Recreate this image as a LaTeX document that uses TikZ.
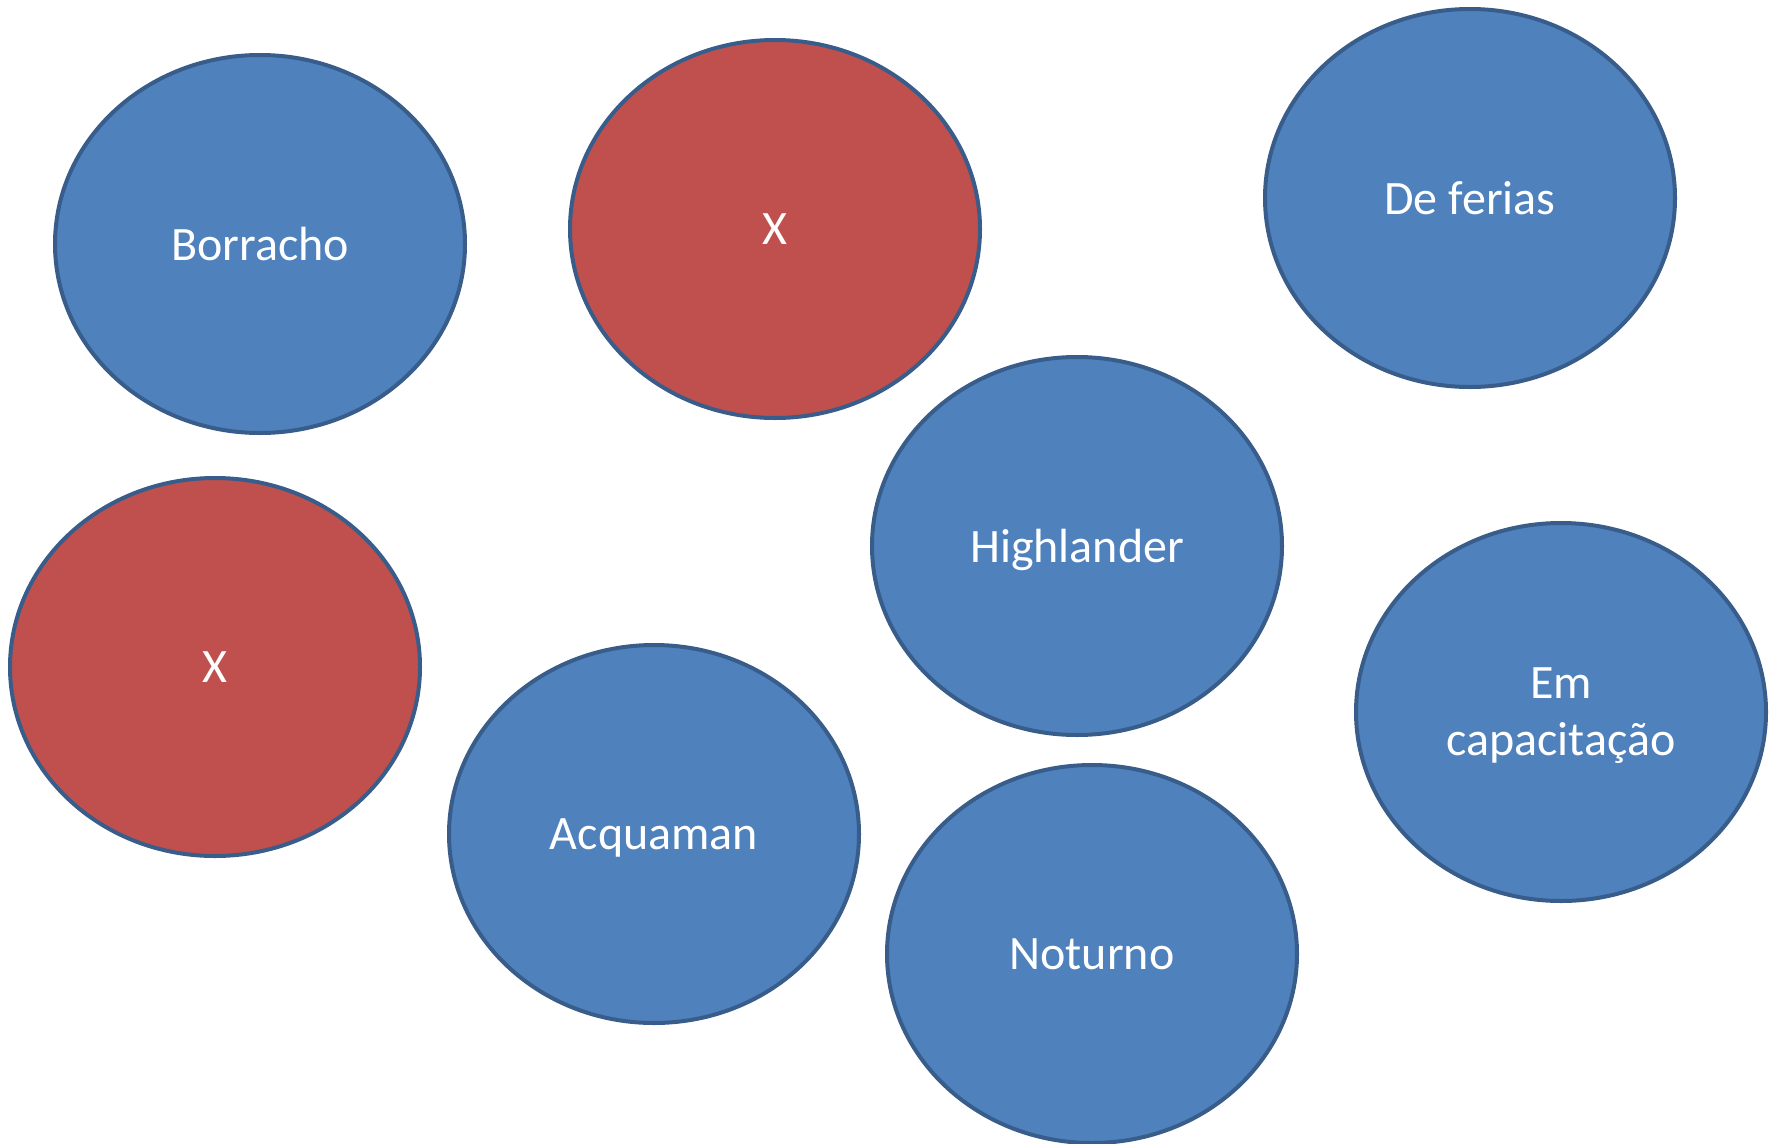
\documentclass[tikz,border=0pt]{standalone}
\usepackage{fontspec}
\setmainfont{Carlito}
\usetikzlibrary{shapes.geometric}
\definecolor{cellblue}{HTML}{4F81BD}
\definecolor{cellred}{HTML}{C0504D}
\definecolor{cellrim}{HTML}{385D8A}
\tikzset{
    cell/.style={ellipse, draw=cellrim, line width=4pt, text=white,
        minimum width=410pt, minimum height=378pt, inner sep=0pt,
        text depth=0pt, align=center, font=\fontsize{48}{57}\selectfont},
    cellblue/.style={cell, fill=cellblue},
    cellred/.style={cell, fill=cellred}
}
\begin{document}
\begin{tikzpicture}[x=1pt,y=-1pt]
    \useasboundingbox (0,0) rectangle (1776,1143);
    \node (borracho) [cellblue] at (260,244) {Borracho};
    \node (xtop) [cellred] at (775,229) {X};
    \node (ferias) [cellblue] at (1470,198) {De ferias};
    \node (highlander) [cellblue] at (1077,546) {Highlander};
    \node (xleft) [cellred] at (215,667) {X};
    \node (capacita) [cellblue] at (1561,712) {Em\\capacitação};
    \node (acquaman) [cellblue] at (654,834) {Acquaman};
    \node (noturno) [cellblue] at (1092,954) {Noturno};
\end{tikzpicture}
\end{document}
